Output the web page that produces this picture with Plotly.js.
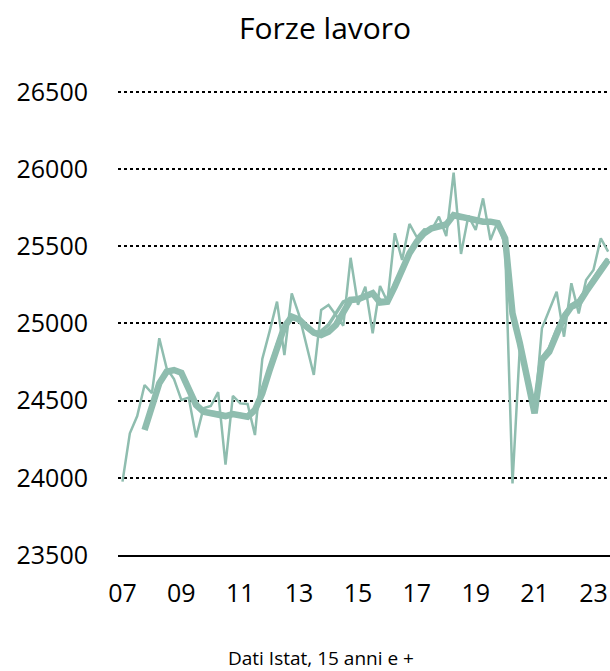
<!DOCTYPE html>
<html>
<head>
<meta charset="utf-8">
<script src="https://cdn.plot.ly/plotly-3.0.1.min.js"></script>
<style>html,body{margin:0;padding:0;background:#fff;}#chart{width:610px;height:671px;}</style>
</head>
<body>
<div id="chart"></div>
<script>
// Quarterly index: 0 = 2007 Q1 ... 66 = 2023 Q3
const tickPositions = [0, 8, 16, 24, 32, 40, 48, 56, 64];
const tickLabels = ["07", "09", "11", "13", "15", "17", "19", "21", "23"];

// Raw quarterly data (thin line), thousands
const rawValues = [
  23975, 24288, 24400, 24601, 24548, 24904, 24710, 24640,
  24504, 24520, 24262, 24450, 24465, 24555, 24085, 24530,
  24482, 24478, 24277, 24770, 24950, 25141, 24795, 25195,
  25054, 24860, 24666, 25087, 25119, 25054, 24985, 25425,
  25120, 25238, 24936, 25242, 25140, 25584, 25411, 25644,
  25558, 25610, 25605, 25691, 25566, 25976, 25450, 25696,
  25605, 25810, 25540, 25659, 25497, 23964, 24850, 24650,
  24420, 24968, 25090, 25205, 24914, 25260, 25065, 25281,
  25346, 25551, 25465
];

// Medium line (starts at index 3)
const mediumValues = [
  null, null, null, 24320, 24470, 24600, 24680, 24700,
  24670, 24570, 24470, 24430, 24425, 24420, 24405, 24415,
  24410, 24400, 24445, 24560, 24710, 24860, 24985, 25040,
  25020, 24970, 24935, 24950, 24990, 25070, 25140, 25160,
  25150, 25180, 25200, 25150, 25150, 25250, 25360, 25460,
  25540, 25590, 25610, 25640, 25650, 25690, 25680, 25690,
  25660, 25665, 25650, 25655, 25560, 25080, 24890, 24640,
  24440, 24780, 24840, 24960, 25060, 25120, 25150, 25220,
  25290, 25360, 25420
];

// Thick line: four-quarter average (starts at index 3)
const thickValues = [
  null, null, null, 24310, 24460, 24612, 24687, 24698,
  24680, 24569, 24472, 24428, 24422, 24415, 24400, 24413,
  24405, 24396, 24439, 24547, 24698, 24849, 24979, 25044,
  25025, 24980, 24940, 24925, 24946, 24990, 25076, 25152,
  25156, 25173, 25195, 25135, 25140, 25238, 25346, 25454,
  25529, 25584, 25616, 25631, 25640, 25702, 25691, 25681,
  25670, 25659, 25659, 25650, 25551, 25065, 24871, 24650,
  24418, 24763, 24817, 24930, 25040, 25108, 25130, 25205,
  25270, 25345, 25411
];

const xIdx = rawValues.map((_, i) => i);
const lineColor = "#8fbdaf";

const traces = [
  {x: xIdx, y: thickValues, type: "scatter", mode: "lines", line: {color: lineColor, width: 6.5}, connectgaps: false, hoverinfo: "skip"},
  {x: xIdx, y: mediumValues, type: "scatter", mode: "lines", line: {color: lineColor, width: 3.5}, connectgaps: false, hoverinfo: "skip"},
  {x: xIdx, y: rawValues, type: "scatter", mode: "lines", line: {color: lineColor, width: 2.5}, hoverinfo: "skip"}
];

const fontFam = "Open Sans, Noto Sans, sans-serif";
const layout = {
  width: 610, height: 671,
  margin: {l: 118, r: 0, t: 79, b: 116},
  paper_bgcolor: "#fff", plot_bgcolor: "#fff",
  showlegend: false,
  font: {family: fontFam, color: "#000", size: 25},
  title: {text: "Forze lavoro", font: {family: fontFam, size: 30, color: "#000"},
          x: 0.533, xref: "container", xanchor: "center", y: 0.957, yref: "container", yanchor: "middle"},
  xaxis: {
    range: [-0.61, 66.25],
    tickmode: "array", tickvals: tickPositions, ticktext: tickLabels,
    showgrid: false, zeroline: false,
    showline: true, linecolor: "#000", linewidth: 2,
    ticks: "outside", ticklen: 15, tickcolor: "rgba(0,0,0,0)",
    tickfont: {family: fontFam, size: 25, color: "#000"}
  },
  yaxis: {
    range: [23500, 26583],
    tickmode: "array", tickvals: [23500, 24000, 24500, 25000, 25500, 26000, 26500],
    ticktext: ["23500", "24000", "24500", "25000", "25500", "26000", "26500"],
    showgrid: true, gridcolor: "#000", gridwidth: 2, griddash: "dot",
    zeroline: false, showline: false,
    ticks: "outside", ticklen: 24, tickcolor: "rgba(0,0,0,0)",
    tickfont: {family: fontFam, size: 25, color: "#000"}
  },
  annotations: [{
    text: "Dati Istat, 15 anni e +", xref: "paper", yref: "paper",
    x: 0.4126, y: -0.2164, xanchor: "center", yanchor: "middle", showarrow: false,
    font: {family: fontFam, size: 19, color: "#000"}
  }]
};

Plotly.newPlot("chart", traces, layout, {staticPlot: true, displayModeBar: false});
</script>
</body>
</html>
